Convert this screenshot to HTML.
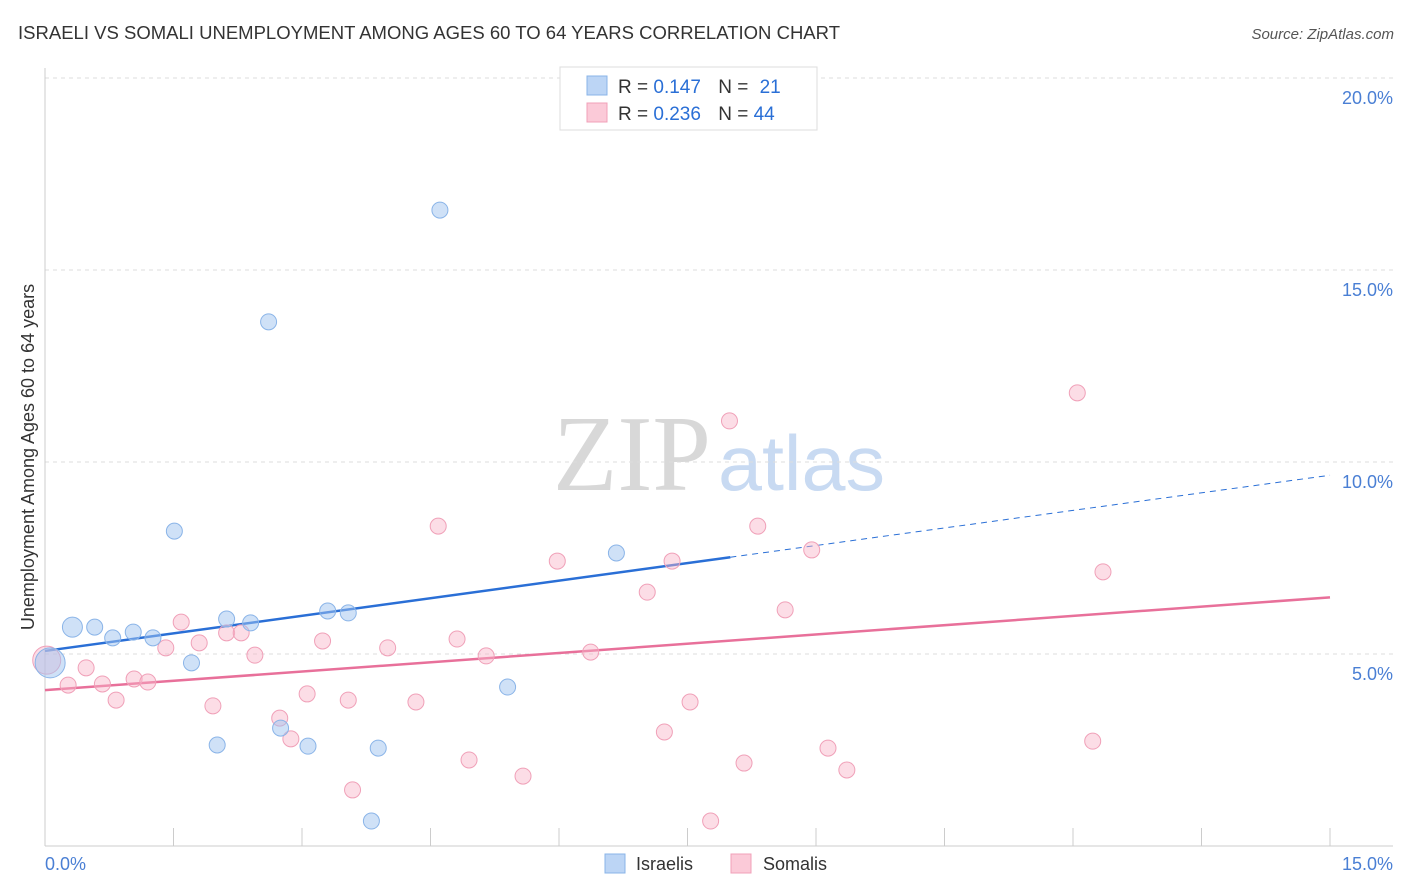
<!DOCTYPE html>
<html><head><meta charset="utf-8">
<style>
body{margin:0;background:#fff;font-family:"Liberation Sans",sans-serif;}
svg{display:block}
</style></head>
<body>
<svg width="1406" height="892" xmlns="http://www.w3.org/2000/svg">
<text x="18" y="39" font-size="18" fill="#333" textLength="822" lengthAdjust="spacingAndGlyphs">ISRAELI VS SOMALI UNEMPLOYMENT AMONG AGES 60 TO 64 YEARS CORRELATION CHART</text>
<text x="1394" y="39" font-size="15" fill="#555" font-style="italic" text-anchor="end">Source: ZipAtlas.com</text>
<text x="553" y="490" font-size="108" fill="#d8d8d8" font-family="Liberation Serif,serif" textLength="158" lengthAdjust="spacingAndGlyphs">ZIP</text>
<text x="718" y="490" font-size="78" fill="#c8daf2" textLength="167" lengthAdjust="spacingAndGlyphs">atlas</text>
<g id="grid"></g>
<line x1="45" y1="68" x2="45" y2="846" stroke="#ccc"/>
<line x1="45" y1="846" x2="1393" y2="846" stroke="#ccc"/>
<g id="xticks"></g>
<text x="45" y="870" font-size="18" fill="#4a7fd4">0.0%</text>
<text x="1393" y="870" font-size="18" fill="#4a7fd4" text-anchor="end">15.0%</text>
<text transform="translate(34,457) rotate(-90)" font-size="18" fill="#333" text-anchor="middle">Unemployment Among Ages 60 to 64 years</text>
<g id="trend"></g>
<g id="pts"></g>
<g>
<rect x="560" y="67" width="257" height="63" fill="#fff" stroke="#ddd"/>
<rect x="587" y="76" width="20" height="19" fill="#bcd5f5" stroke="#8ab4e8"/>
<rect x="587" y="103" width="20" height="19" fill="#fbcad8" stroke="#f0a0b8"/>
<text x="618" y="93" font-size="19" fill="#333">R = <tspan fill="#2a6fd6">0.147</tspan>  <tspan dx="12">N = </tspan><tspan fill="#2a6fd6" dx="6">21</tspan></text>
<text x="618" y="120" font-size="19" fill="#333">R = <tspan fill="#2a6fd6">0.236</tspan>  <tspan dx="12">N = </tspan><tspan fill="#2a6fd6">44</tspan></text>
</g>
<g>
<rect x="605" y="854" width="20" height="19" fill="#bcd5f5" stroke="#8ab4e8"/>
<text x="636" y="870" font-size="18" fill="#333">Israelis</text>
<rect x="731" y="854" width="20" height="19" fill="#fbcad8" stroke="#f0a0b8"/>
<text x="763" y="870" font-size="18" fill="#333">Somalis</text>
</g>
</svg>
<script>
const yTicks=[5,10,15,20];
const yTickLabels=["5.0%","10.0%","15.0%","20.0%"];
const xTicks=[0,1.5,3,4.5,6,7.5,9,10.5,12,13.5,15];
const israeliX=[0.06,0.32,0.58,0.79,1.03,1.26,1.51,1.71,2.01,2.12,2.40,2.61,2.75,3.07,3.30,3.54,3.89,3.81,4.61,5.40,6.67];
const israeliY=[4.77,5.70,5.70,5.42,5.57,5.42,8.20,4.77,2.63,5.91,5.81,13.65,3.07,2.60,6.12,6.07,2.55,0.65,16.56,4.14,7.63];
const israeliSize=[15,10,8,8,8,8,8,8,8,8,8,8,8,8,8,8,8,8,8,8,8];
const somaliX=[0.02,0.27,0.48,0.67,0.83,1.04,1.20,1.41,1.59,1.80,1.96,2.12,2.29,2.45,2.74,2.87,3.06,3.24,3.54,3.59,4.00,4.33,4.59,4.81,4.95,5.15,5.58,5.98,6.37,7.03,7.23,7.32,7.53,7.77,7.99,8.16,8.32,8.64,8.95,9.14,9.36,12.05,12.23,12.35];
const somaliY=[4.84,4.19,4.64,4.22,3.80,4.35,4.27,5.16,5.83,5.29,3.65,5.55,5.55,4.97,3.33,2.79,3.96,5.34,3.80,1.46,5.16,3.75,8.33,5.39,2.24,4.95,1.82,7.42,5.05,6.61,2.97,7.42,3.75,0.65,11.07,2.16,8.33,6.15,7.71,2.55,1.98,11.80,2.73,7.14];
const israeliTrend=[5.08,0.305];
const somaliTrend=[4.06,0.161];
const NS="http://www.w3.org/2000/svg";
const X=v=>45+v/15*1285, Y=v=>846-v*38.4;
function mk(t,a,p){const e=document.createElementNS(NS,t);for(const k in a)e.setAttribute(k,a[k]);document.getElementById(p).appendChild(e);return e;}
yTicks.forEach((v,i)=>{
 const l=mk('line',{x1:45,x2:1393,y1:Y(v),y2:Y(v),stroke:'#ddd','stroke-dasharray':'4,4'},'grid');
 
 
 const t=mk('text',{x:1393,y:Y(v)+26,'font-size':18,fill:'#4a7fd4','text-anchor':'end'},'grid');
 t.textContent=yTickLabels[i];
 
 
});
xTicks.forEach(v=>{
 const l=mk('line',{x1:X(v),x2:X(v),y1:828,y2:846,stroke:'#ccc'},'xticks');
 
 
});
function tl(tr,x0,x1,col,dash){const l=mk('line',{x1:X(x0),y1:Y(tr[0]+tr[1]*x0),x2:X(x1),y2:Y(tr[0]+tr[1]*x1),stroke:col,'stroke-width':dash?1:2.5,'stroke-dasharray':dash?'6,5':'none'},'trend');return l;}
let a=tl(israeliTrend,0,8,'#2a6fd6',false);


a=tl(israeliTrend,8,15,'#2a6fd6',true);


a=tl(somaliTrend,0,15,'#e8709a',false);


somaliX.forEach((v,i)=>{
 const c=mk('circle',{cx:X(v),cy:Y(somaliY[i]),r:i==0?14:8,fill:'rgba(248,180,200,0.45)',stroke:'#f0a0b8','stroke-width':1},'pts');
 
 
});
israeliX.forEach((v,i)=>{
 const c=mk('circle',{cx:X(v),cy:Y(israeliY[i]),r:israeliSize[i],fill:'rgba(160,196,240,0.5)',stroke:'#8ab4e8','stroke-width':1},'pts');
 
 
});
</script>
</body></html>
